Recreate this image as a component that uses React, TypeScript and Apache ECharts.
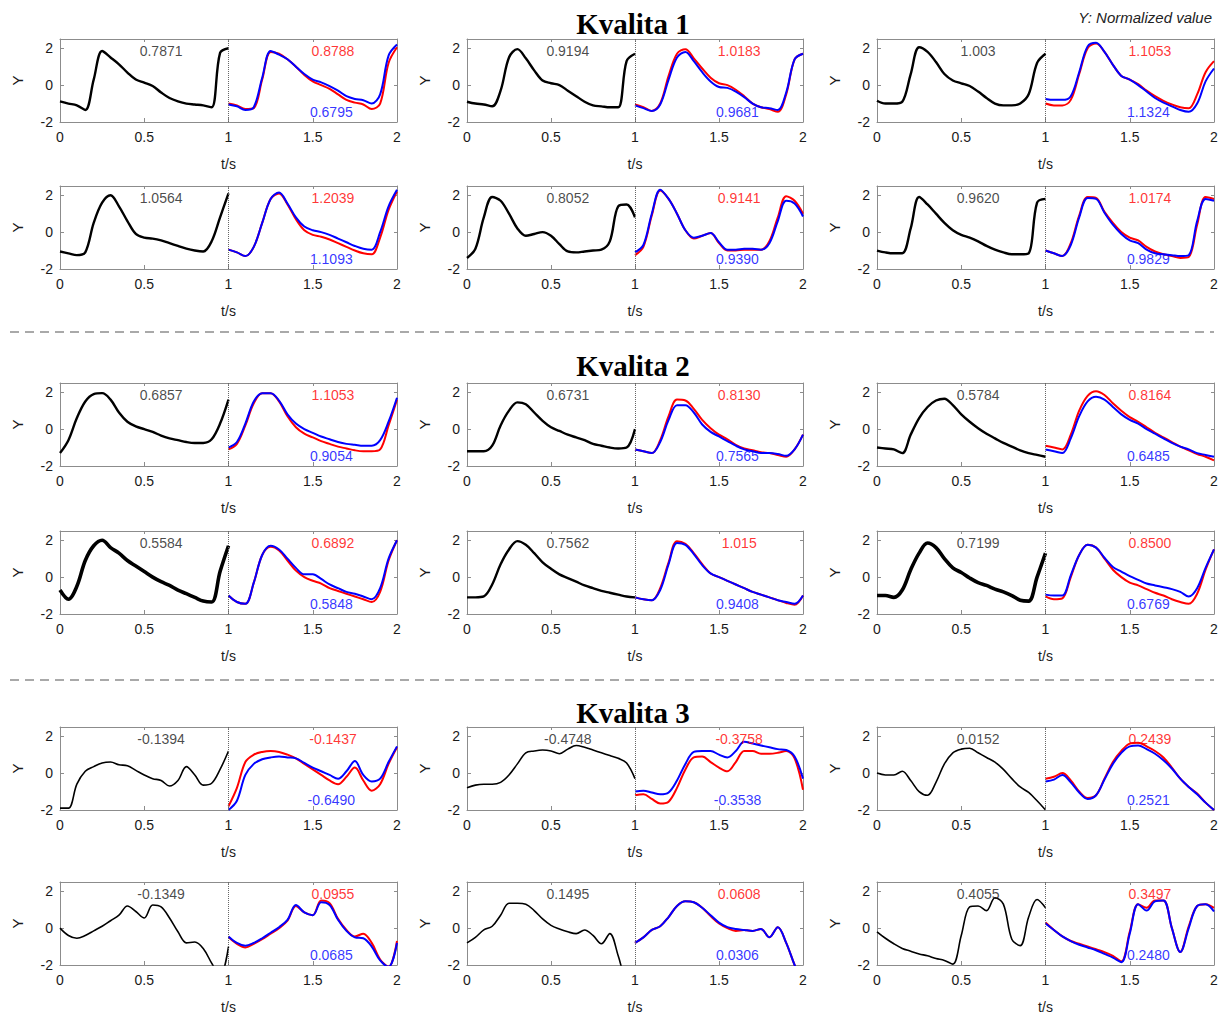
import React, { useEffect, useRef } from "react";
import * as echarts from "echarts";

// time grids (s)
const tBlack = [0, 0.05, 0.1, 0.15, 0.2, 0.25, 0.3, 0.35, 0.4, 0.45, 0.5, 0.55, 0.6, 0.65, 0.7, 0.75, 0.8, 0.85, 0.9, 0.95, 1.0];
const tModel = [1.0, 1.05, 1.1, 1.15, 1.2, 1.25, 1.3, 1.35, 1.4, 1.45, 1.5, 1.55, 1.6, 1.65, 1.7, 1.75, 1.8, 1.85, 1.9, 1.95, 2.0];

const sectionTitles = ["Kvalita 1", "Kvalita 2", "Kvalita 3"];
const xTickValues = [0, 0.5, 1, 1.5, 2];
const yTickValues = [-2, 0, 2];

// Kvalita 1
const black1 = [-0.88, -1.0, -1.1, -1.35, 0.3, 1.85, 1.5, 1.13, 0.68, 0.3, 0.13, -0.05, -0.4, -0.7, -0.88, -1.0, -1.05, -1.1, -1.2, 1.75, 2.0];
const red1 = [-1.0, -1.1, -1.3, -1.25, 0.3, 1.8, 1.7, 1.4, 1.0, 0.55, 0.2, 0.0, -0.2, -0.5, -0.8, -0.95, -1.05, -1.3, -1.0, 1.2, 2.05];
const blue1 = [-1.05, -1.15, -1.35, -1.2, 0.4, 1.85, 1.65, 1.4, 1.0, 0.6, 0.3, 0.15, -0.05, -0.3, -0.6, -0.75, -0.82, -1.0, -0.5, 1.6, 2.2];

const black2 = [-0.9, -1.0, -1.05, -1.15, -0.3, 1.5, 1.95, 1.45, 0.8, 0.25, 0.1, 0.0, -0.3, -0.6, -0.9, -1.1, -1.15, -1.2, -1.2, 1.3, 1.7];
const red2 = [-1.05, -1.2, -1.4, -1.0, 0.5, 1.7, 1.95, 1.45, 0.9, 0.4, 0.1, 0.0, -0.25, -0.6, -1.0, -1.2, -1.3, -1.45, -0.5, 1.4, 1.7];
const blue2 = [-1.1, -1.25, -1.4, -1.05, 0.3, 1.5, 1.8, 1.3, 0.7, 0.2, -0.1, -0.15, -0.35, -0.65, -1.0, -1.2, -1.25, -1.35, -0.4, 1.4, 1.7];

const black3 = [-0.85, -1.0, -1.0, -0.9, 0.6, 2.05, 1.8, 1.25, 0.6, 0.25, 0.1, -0.05, -0.35, -0.7, -1.0, -1.1, -1.1, -1.0, -0.5, 1.2, 1.7];
const red3 = [-1.0, -1.1, -1.1, -0.8, 0.6, 2.0, 2.25, 1.8, 1.1, 0.5, 0.3, 0.05, -0.3, -0.6, -0.85, -1.05, -1.2, -1.25, -0.5, 0.7, 1.3];
const blue3 = [-0.75, -0.8, -0.8, -0.6, 0.7, 2.1, 2.3, 1.8, 1.1, 0.5, 0.3, 0.0, -0.35, -0.7, -0.95, -1.15, -1.35, -1.45, -1.0, 0.2, 0.9];

const black4 = [-1.05, -1.15, -1.25, -1.1, 0.5, 1.6, 2.0, 1.4, 0.6, -0.1, -0.3, -0.35, -0.45, -0.6, -0.75, -0.9, -1.0, -1.05, -0.5, 0.8, 2.1];
const red4 = [-0.95, -1.1, -1.3, -0.8, 0.5, 1.8, 2.1, 1.5, 0.7, 0.1, -0.15, -0.25, -0.4, -0.6, -0.8, -1.0, -1.15, -1.2, -0.3, 1.2, 2.2];
const blue4 = [-0.95, -1.1, -1.3, -0.8, 0.5, 1.8, 2.15, 1.55, 0.8, 0.3, 0.1, 0.0, -0.15, -0.35, -0.55, -0.75, -0.9, -0.95, 0.0, 1.4, 2.3];

const black5 = [-1.4, -0.9, 0.8, 1.9, 1.7, 1.0, 0.2, -0.2, -0.1, 0.0, -0.2, -0.65, -1.05, -1.1, -1.05, -1.0, -0.95, -0.5, 1.4, 1.5, 0.8];
const red5 = [-1.25, -0.8, 0.9, 2.25, 1.8, 1.0, 0.1, -0.35, -0.2, -0.05, -0.6, -1.0, -1.0, -0.95, -0.95, -0.95, -0.5, 0.8, 1.95, 1.7, 1.0];
const blue5 = [-1.1, -0.7, 1.0, 2.3, 1.8, 1.0, 0.1, -0.3, -0.2, -0.05, -0.55, -0.95, -0.95, -0.9, -0.9, -0.95, -0.6, 0.6, 1.7, 1.55, 0.85];

const black6 = [-1.0, -1.1, -1.15, -1.15, 0.2, 1.9, 1.5, 1.0, 0.5, 0.1, -0.15, -0.3, -0.5, -0.75, -0.95, -1.1, -1.2, -1.2, -1.15, 1.6, 1.8];
const red6 = [-1.0, -1.15, -1.3, -0.6, 0.9, 1.9, 1.85, 1.1, 0.5, 0.0, -0.3, -0.45, -0.8, -1.05, -1.2, -1.3, -1.4, -1.35, 0.4, 1.9, 1.8];
const blue6 = [-1.0, -1.15, -1.3, -0.7, 0.8, 1.85, 1.8, 1.05, 0.4, -0.1, -0.45, -0.6, -0.95, -1.15, -1.2, -1.25, -1.3, -1.25, 0.6, 1.8, 1.7];

// Kvalita 2
const black7 = [-1.3, -0.6, 0.6, 1.5, 1.9, 1.95, 1.6, 0.9, 0.4, 0.15, 0.0, -0.15, -0.35, -0.5, -0.6, -0.7, -0.75, -0.75, -0.55, 0.3, 1.6];
const red7 = [-1.1, -0.8, 0.2, 1.4, 1.95, 1.95, 1.5, 0.7, 0.1, -0.25, -0.45, -0.65, -0.8, -0.95, -1.05, -1.15, -1.2, -1.2, -1.1, 0.2, 1.6];
const blue7 = [-1.0, -0.7, 0.3, 1.5, 1.95, 1.95, 1.55, 0.8, 0.3, 0.0, -0.2, -0.4, -0.55, -0.7, -0.8, -0.85, -0.9, -0.9, -0.6, 0.4, 1.7];

const black8 = [-1.2, -1.2, -1.2, -0.9, 0.2, 1.0, 1.45, 1.35, 0.9, 0.45, 0.1, -0.1, -0.3, -0.45, -0.6, -0.8, -0.9, -1.0, -1.05, -1.0, 0.0];
const red8 = [-1.1, -1.2, -1.3, -0.6, 0.7, 1.6, 1.55, 1.1, 0.5, 0.05, -0.3, -0.55, -0.85, -1.05, -1.15, -1.25, -1.3, -1.4, -1.5, -1.1, -0.3];
const blue8 = [-1.1, -1.2, -1.3, -0.7, 0.5, 1.3, 1.3, 0.9, 0.25, -0.15, -0.4, -0.65, -0.9, -1.1, -1.2, -1.3, -1.3, -1.35, -1.45, -1.1, -0.3];

const black9 = [-1.0, -1.05, -1.1, -1.3, -0.3, 0.6, 1.2, 1.55, 1.65, 1.3, 0.8, 0.4, 0.05, -0.25, -0.5, -0.75, -0.95, -1.15, -1.3, -1.4, -1.5];
const red9 = [-0.9, -1.0, -1.1, -0.3, 1.0, 1.8, 2.05, 1.85, 1.4, 1.0, 0.65, 0.4, 0.1, -0.2, -0.45, -0.7, -0.95, -1.15, -1.35, -1.5, -1.7];
const blue9 = [-1.1, -1.2, -1.3, -0.5, 0.7, 1.5, 1.75, 1.6, 1.2, 0.8, 0.5, 0.3, 0.0, -0.25, -0.5, -0.75, -0.95, -1.1, -1.3, -1.4, -1.5];

const black10 = [-0.7, -1.2, -0.5, 0.9, 1.7, 2.0, 1.6, 1.3, 0.9, 0.6, 0.3, 0.0, -0.25, -0.45, -0.7, -0.9, -1.1, -1.3, -1.35, 0.3, 1.7];
const red10 = [-1.0, -1.35, -1.45, -0.3, 1.2, 1.65, 1.45, 0.9, 0.35, 0.0, -0.2, -0.35, -0.6, -0.75, -0.9, -1.05, -1.2, -1.35, -0.8, 0.9, 2.0];
const blue10 = [-1.0, -1.35, -1.45, -0.3, 1.2, 1.7, 1.5, 1.0, 0.5, 0.15, 0.15, -0.1, -0.4, -0.6, -0.8, -0.9, -1.05, -1.2, -0.6, 1.0, 2.0];

const black11 = [-1.1, -1.1, -1.05, -0.4, 0.7, 1.5, 1.95, 1.75, 1.3, 0.8, 0.45, 0.15, -0.05, -0.25, -0.45, -0.6, -0.75, -0.85, -0.95, -1.05, -1.1];
const red11 = [-1.1, -1.2, -1.25, -0.6, 0.8, 1.95, 1.8, 1.3, 0.7, 0.2, 0.0, -0.2, -0.4, -0.6, -0.8, -0.95, -1.1, -1.25, -1.4, -1.5, -1.0];
const blue11 = [-1.1, -1.2, -1.25, -0.7, 0.7, 1.85, 1.75, 1.25, 0.65, 0.2, 0.0, -0.2, -0.4, -0.6, -0.8, -0.95, -1.1, -1.25, -1.35, -1.45, -1.0];

const black12 = [-1.0, -1.0, -1.1, -0.7, 0.4, 1.3, 1.85, 1.6, 1.0, 0.5, 0.25, -0.05, -0.3, -0.45, -0.65, -0.8, -1.0, -1.25, -1.3, 0.0, 1.3];
const red12 = [-1.05, -1.2, -1.15, 0.0, 1.2, 1.75, 1.6, 1.0, 0.4, 0.0, -0.3, -0.45, -0.65, -0.85, -1.0, -1.2, -1.35, -1.45, -0.9, 0.4, 1.5];
const blue12 = [-0.95, -1.0, -1.0, 0.1, 1.2, 1.75, 1.6, 1.05, 0.55, 0.3, 0.05, -0.15, -0.35, -0.45, -0.55, -0.65, -0.8, -1.05, -0.6, 0.5, 1.5];

// Kvalita 3
const black13 = [-1.9, -1.9, -0.6, 0.1, 0.35, 0.55, 0.6, 0.45, 0.4, 0.15, -0.1, -0.3, -0.4, -0.7, -0.4, 0.35, -0.1, -0.65, -0.55, 0.2, 1.2];
const red13 = [-1.8, -0.8, 0.6, 1.0, 1.15, 1.2, 1.15, 1.0, 0.8, 0.5, 0.2, -0.1, -0.4, -0.6, -0.2, 0.3, -0.4, -0.95, -0.6, 0.5, 1.4];
const blue13 = [-2.0, -1.5, -0.1, 0.5, 0.75, 0.85, 0.9, 0.85, 0.8, 0.55, 0.3, 0.1, -0.1, -0.3, 0.1, 0.65, -0.1, -0.45, -0.3, 0.6, 1.45];

const black14 = [-0.8, -0.65, -0.6, -0.6, -0.5, -0.1, 0.5, 1.1, 1.2, 1.25, 1.2, 1.05, 1.3, 1.5, 1.4, 1.25, 1.1, 0.95, 0.8, 0.55, -0.3];
const red14 = [-1.2, -1.15, -1.4, -1.65, -1.55, -0.8, 0.2, 0.85, 0.9, 0.6, 0.3, 0.1, 0.6, 1.2, 1.2, 1.05, 1.05, 1.1, 1.2, 0.8, -0.9];
const blue14 = [-1.0, -0.95, -1.05, -1.15, -1.05, -0.4, 0.5, 1.15, 1.2, 1.2, 1.0, 0.85, 1.2, 1.7, 1.6, 1.5, 1.4, 1.3, 1.25, 0.9, -0.3];

const black15 = [0.0, -0.1, -0.1, 0.1, -0.4, -1.0, -1.2, -0.5, 0.5, 1.1, 1.3, 1.35, 1.1, 0.85, 0.6, 0.2, -0.3, -0.75, -1.05, -1.5, -2.0];
const red15 = [-0.3, -0.2, 0.0, -0.4, -1.0, -1.35, -1.2, -0.3, 0.6, 1.2, 1.6, 1.65, 1.45, 1.2, 0.85, 0.3, -0.3, -0.75, -1.1, -1.6, -2.0];
const blue15 = [-0.45, -0.35, -0.1, -0.5, -1.05, -1.4, -1.2, -0.35, 0.5, 1.1, 1.45, 1.5, 1.3, 1.05, 0.7, 0.25, -0.3, -0.75, -1.15, -1.6, -2.0];

const black16 = [0.0, -0.4, -0.55, -0.4, -0.15, 0.1, 0.4, 0.7, 1.2, 0.9, 0.55, 1.25, 1.15, 0.55, -0.2, -0.8, -0.75, -1.1, -1.9, -2.6, -1.0];
const red16 = [-0.5, -0.85, -1.05, -0.85, -0.6, -0.3, 0.0, 0.4, 1.2, 0.85, 0.7, 1.5, 1.35, 0.5, -0.1, -0.45, -0.3, -0.8, -1.7, -2.1, -0.7];
const blue16 = [-0.45, -0.8, -0.95, -0.8, -0.55, -0.25, 0.05, 0.45, 1.25, 0.85, 0.7, 1.4, 1.25, 0.45, -0.15, -0.5, -0.55, -1.0, -1.75, -2.1, -0.8];

const black17 = [-0.8, -0.5, -0.1, 0.1, 0.7, 1.35, 1.35, 1.3, 0.95, 0.5, 0.15, -0.05, -0.2, -0.3, -0.1, -0.4, -0.85, -0.3, -1.5, -3.0, -3.5];
const red17 = [-0.8, -0.5, -0.1, 0.1, 0.6, 1.2, 1.45, 1.4, 1.1, 0.65, 0.25, 0.0, -0.15, -0.1, -0.15, -0.05, -0.5, 0.05, -0.8, -2.0, -3.0];
const blue17 = [-0.8, -0.5, -0.1, 0.1, 0.6, 1.2, 1.45, 1.4, 1.1, 0.7, 0.3, 0.05, -0.05, -0.1, -0.15, -0.05, -0.5, 0.05, -0.8, -2.0, -3.0];

const black18 = [-0.2, -0.55, -0.85, -1.1, -1.25, -1.4, -1.5, -1.65, -1.75, -1.95, -0.4, 1.15, 1.2, 0.95, 1.65, 1.3, -0.6, -0.95, 0.6, 1.55, 1.1];
const red18 = [0.3, -0.1, -0.45, -0.7, -0.85, -1.0, -1.15, -1.3, -1.5, -1.8, -0.2, 1.3, 1.1, 1.5, 1.5, 0.0, -1.3, 0.1, 1.2, 1.3, 1.1];
const blue18 = [0.25, -0.1, -0.45, -0.7, -0.9, -1.05, -1.2, -1.4, -1.6, -1.85, -0.3, 1.3, 0.95, 1.45, 1.5, 0.0, -1.3, 0.0, 1.2, 1.3, 0.9];

const blackCurves = [black1, black2, black3, black4, black5, black6, black7, black8, black9, black10, black11, black12, black13, black14, black15, black16, black17, black18];
const redCurves = [red1, red2, red3, red4, red5, red6, red7, red8, red9, red10, red11, red12, red13, red14, red15, red16, red17, red18];
const blueCurves = [blue1, blue2, blue3, blue4, blue5, blue6, blue7, blue8, blue9, blue10, blue11, blue12, blue13, blue14, blue15, blue16, blue17, blue18];

const blackLabels = ["0.7871", "0.9194", "1.003", "1.0564", "0.8052", "0.9620", "0.6857", "0.6731", "0.5784", "0.5584", "0.7562", "0.7199", "-0.1394", "-0.4748", "0.0152", "-0.1349", "0.1495", "0.4055"];
const redLabels = ["0.8788", "1.0183", "1.1053", "1.2039", "0.9141", "1.0174", "1.1053", "0.8130", "0.8164", "0.6892", "1.015", "0.8500", "-0.1437", "-0.3758", "0.2439", "0.0955", "0.0608", "0.3497"];
const blueLabels = ["0.6795", "0.9681", "1.1324", "1.1093", "0.9390", "0.9829", "0.9054", "0.7565", "0.6485", "0.5848", "0.9408", "0.6769", "-0.6490", "-0.3538", "0.2521", "0.0685", "0.0306", "0.2480"];

// layout (pixels) and styles
const colLeft = [60, 467, 877];
const colWidth = [337, 336, 337];
const rowTop = [39, 186, 383, 531, 727, 882];
const panelH = 83;
const titleY = [24, 366, 713];
const separatorY = [332, 680];
const FONT = "'Liberation Sans', Arial, sans-serif";
const FRAME = "#8c8c8c";
const RED = "#ff0000";
const BLUE = "#0000ff";

function blackWidth(i: number) {
  if (i === 9 || i === 11) return 3.6;
  if (i < 12) return 2.4;
  return 1.6;
}

function buildOption() {
  const grid: any[] = [];
  const xAxis: any[] = [];
  const yAxis: any[] = [];
  const series: any[] = [];
  for (let i = 0; i < 18; i++) {
    const r = Math.floor(i / 3);
    const c = i % 3;
    grid.push({ left: colLeft[c], top: rowTop[r], width: colWidth[c], height: panelH, containLabel: false });
    const axisLine = { show: true, onZero: false, lineStyle: { color: FRAME, width: 1 } };
    xAxis.push({
      gridIndex: i, type: "value", min: 0, max: 2, interval: 0.5, position: "bottom",
      axisLine, axisTick: { show: true, inside: true, length: 4, lineStyle: { color: FRAME } },
      axisLabel: { margin: 8, color: "#1a1a1a", fontSize: 14, fontFamily: FONT,
        formatter: (v: number) => (xTickValues.includes(v) ? String(v) : "") },
      splitLine: { show: false },
      name: "t/s", nameLocation: "middle", nameGap: 35,
      nameTextStyle: { color: "#1a1a1a", fontSize: 14, fontFamily: FONT },
    });
    xAxis.push({
      gridIndex: i, type: "value", min: 0, max: 2, interval: 0.5, position: "top",
      axisLine, axisTick: { show: true, inside: true, length: 3, lineStyle: { color: FRAME } },
      axisLabel: { show: false }, splitLine: { show: false },
    });
    yAxis.push({
      gridIndex: i, type: "value", min: -2, max: 2.5, interval: 2, position: "left",
      axisLine, axisTick: { show: true, inside: true, length: 4, lineStyle: { color: FRAME } },
      axisLabel: { margin: 7, color: "#1a1a1a", fontSize: 14, fontFamily: FONT,
        formatter: (v: number) => (yTickValues.includes(v) ? String(v) : "") },
      splitLine: { show: false },
      name: "Y", nameLocation: "middle", nameRotate: 90, nameGap: 35,
      nameTextStyle: { color: "#1a1a1a", fontSize: 15, fontFamily: FONT },
    });
    yAxis.push({
      gridIndex: i, type: "value", min: -2, max: 2.5, interval: 2, position: "right",
      axisLine, axisTick: { show: true, inside: true, length: 3, lineStyle: { color: FRAME } },
      axisLabel: { show: false }, splitLine: { show: false },
    });
    const xi = 2 * i;
    const yi = 2 * i;
    series.push({
      type: "line", xAxisIndex: xi, yAxisIndex: yi, symbol: "none", smooth: 0.35,
      data: tBlack.map((t, j) => [t, blackCurves[i][j]]),
      lineStyle: { color: "#000", width: blackWidth(i) }, z: 3,
      markLine: {
        silent: true, symbol: ["none", "none"], label: { show: false },
        lineStyle: { type: "dotted", color: "#666", width: 1 },
        data: [{ xAxis: 1 }],
      },
    });
    series.push({
      type: "line", xAxisIndex: xi, yAxisIndex: yi, symbol: "none", smooth: 0.35,
      data: tModel.map((t, j) => [t, redCurves[i][j]]),
      lineStyle: { color: RED, width: 2 }, z: 3,
    });
    series.push({
      type: "line", xAxisIndex: xi, yAxisIndex: yi, symbol: "none", smooth: 0.35,
      data: tModel.map((t, j) => [t, blueCurves[i][j]]),
      lineStyle: { color: BLUE, width: 2 }, z: 4,
    });
    series.push({
      type: "scatter", xAxisIndex: xi, yAxisIndex: yi, symbolSize: 0, z: 6, silent: true,
      data: [
        { value: [0.6, 1.85], label: { formatter: blackLabels[i], color: "#1a1a1a" } },
        { value: [1.62, 1.85], label: { formatter: redLabels[i], color: RED } },
        { value: [1.61, -1.45], label: { formatter: blueLabels[i], color: BLUE } },
      ],
      label: { show: true, position: "inside", fontSize: 14, fontFamily: FONT },
    });
  }
  const graphic: any[] = [];
  sectionTitles.forEach((t, k) => {
    graphic.push({
      type: "text", x: 633, y: titleY[k],
      style: { text: t, fill: "#000", font: "bold 29px 'Liberation Serif', 'Times New Roman', serif",
        textAlign: "center", textVerticalAlign: "middle" },
    });
  });
  separatorY.forEach((y) => {
    graphic.push({
      type: "line", shape: { x1: 10, y1: y, x2: 1214, y2: y },
      style: { stroke: "#555", lineWidth: 1.2, lineDash: [9, 6] },
    });
  });
  graphic.push({
    type: "text", x: 1212, y: 17,
    style: { text: "Y: Normalized value", fill: "#222", font: `italic 15px ${FONT}`,
      textAlign: "right", textVerticalAlign: "middle" },
  });
  return { animation: false, backgroundColor: "#fff", grid, xAxis, yAxis, series, graphic };
}

export default function App() {
  const ref = useRef<HTMLDivElement>(null);
  useEffect(() => {
    if (!ref.current) return;
    const chart = echarts.init(ref.current, undefined, { renderer: "svg" });
    chart.setOption(buildOption() as any);
    return () => chart.dispose();
  }, []);
  return <div ref={ref} style={{ position: "absolute", left: 0, top: 0, width: 1224, height: 1019 }} />;
}
